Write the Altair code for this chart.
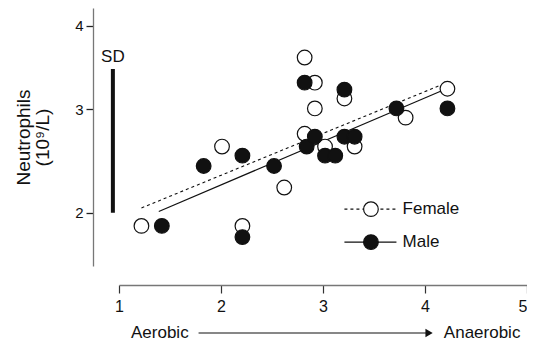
import altair as alt
import pandas as pd

# ---- data ----
female_x = [1.22, 2.01, 2.21, 2.62, 2.82, 2.92, 2.92, 2.82, 3.02, 3.21, 3.31, 3.81, 4.22]
female_y = [1.89, 2.61, 1.89, 2.22, 3.60, 3.30, 3.01, 2.74, 2.61, 3.12, 2.61, 2.91, 3.23]
male_x = [1.42, 1.83, 2.21, 2.21, 2.52, 2.82, 2.84, 2.92, 3.02, 3.12, 3.21, 3.21, 3.31, 3.72, 4.22]
male_y = [1.89, 2.42, 2.52, 1.80, 2.42, 3.30, 2.61, 2.71, 2.52, 2.52, 3.22, 2.71, 2.71, 3.01, 3.01]

female_fit_x = [1.22, 4.15]
female_fit_y = [2.04, 3.27]
male_fit_x = [1.39, 4.17]
male_fit_y = [2.01, 3.21]

sd_x = [0.94]
sd_low = [2.0]
sd_high = [3.46]
sd_label = ["SD"]
sd_label_y = [3.55]

legend_labels = ["Female", "Male"]
legend_y = [2.03, 1.76]
legend_line_x = [3.21, 3.72]
legend_mark_x = 3.47
legend_text_x = 3.78

x_ticks = [1, 2, 3, 4, 5]
y_ticks = [2, 3, 4]
x_domain = [1, 5]
y_domain = [1.58, 4.24]

arrow_labels = ["Aerobic", "Anaerobic"]
arrow_label_x = [1.40, 4.56]
arrow_x = [1.78, 4.04]

FONT = "Liberation Sans"

xs = alt.Scale(domain=x_domain, nice=False, zero=False)
ys = alt.Scale(type="pow", exponent=0.37, domain=y_domain, nice=False, zero=False)

x_axis = alt.Axis(values=x_ticks, title=None, offset=19, tickSize=8, grid=False,
                  labelFontSize=16, labelPadding=5, labelColor="#111", domainColor="#777",
                  domainWidth=1.3, tickColor="#333", tickWidth=1.2, labelFont=FONT,
                  format="d", labelFlush=False,
                  labelAlign={"condition": {"test": "datum.value === 5", "value": "right"},
                              "value": "center"})
y_axis = alt.Axis(values=y_ticks, title=["Neutrophils", "(10⁹/L)"], offset=26, tickSize=7,
                  grid=False, labelFontSize=15, labelPadding=3, labelColor="#111",
                  domainColor="#777", domainWidth=1.3, tickColor="#222", tickWidth=1.3,
                  titleFontSize=19, titleFontWeight="normal", titleFont=FONT, titleColor="#111",
                  titlePadding=22, labelFont=FONT, format="d", titleLineHeight=19,
                  labelFlush=False)

fem = pd.DataFrame({"x": female_x, "y": female_y})
mal = pd.DataFrame({"x": male_x, "y": male_y})
ffit = pd.DataFrame({"x": female_fit_x, "y": female_fit_y})
mfit = pd.DataFrame({"x": male_fit_x, "y": male_fit_y})

base_x = alt.X("x:Q", scale=xs, axis=x_axis)
base_y = alt.Y("y:Q", scale=ys, axis=y_axis)

fline = alt.Chart(ffit).mark_line(color="#111", strokeWidth=1.1, strokeDash=[3, 3]).encode(x=base_x, y=base_y)
mline = alt.Chart(mfit).mark_line(color="#111", strokeWidth=1.2).encode(x=base_x, y=base_y)

fpts = alt.Chart(fem).mark_point(shape="circle", filled=True, fill="white", stroke="#111",
                                 strokeWidth=1.2, size=215, opacity=1).encode(x="x:Q", y="y:Q")
mpts = alt.Chart(mal).mark_point(shape="circle", filled=True, fill="#111", stroke="#111",
                                 strokeWidth=1.2, size=215, opacity=1).encode(x="x:Q", y="y:Q")

sd = pd.DataFrame({"x": sd_x, "lo": sd_low, "hi": sd_high, "label": sd_label, "ly": sd_label_y})
sd_bar = alt.Chart(sd).mark_rule(color="#111", strokeWidth=4).encode(x="x:Q", y="lo:Q", y2="hi")
sd_txt = alt.Chart(sd).mark_text(font=FONT, fontSize=17, color="#111", baseline="alphabetic",
                                 align="center").encode(x="x:Q", y="ly:Q", text="label:N")

leg_lines = pd.DataFrame({
    "x": legend_line_x + legend_line_x,
    "y": [legend_y[0]] * 2 + [legend_y[1]] * 2,
    "g": [legend_labels[0]] * 2 + [legend_labels[1]] * 2,
})
leg_f_line = alt.Chart(leg_lines[leg_lines.g == "Female"]).mark_line(
    color="#111", strokeWidth=1.1, strokeDash=[3, 3]).encode(x="x:Q", y="y:Q")
leg_m_line = alt.Chart(leg_lines[leg_lines.g == "Male"]).mark_line(
    color="#111", strokeWidth=1.2).encode(x="x:Q", y="y:Q")
leg_pts = pd.DataFrame({"x": [legend_mark_x] * 2, "y": legend_y, "g": legend_labels})
leg_f_pt = alt.Chart(leg_pts[leg_pts.g == "Female"]).mark_point(
    shape="circle", filled=True, fill="white", stroke="#111", strokeWidth=1.2, size=215,
    opacity=1).encode(x="x:Q", y="y:Q")
leg_m_pt = alt.Chart(leg_pts[leg_pts.g == "Male"]).mark_point(
    shape="circle", filled=True, fill="#111", stroke="#111", strokeWidth=1.2, size=215,
    opacity=1).encode(x="x:Q", y="y:Q")
leg_txt = alt.Chart(pd.DataFrame({"x": [legend_text_x] * 2, "y": legend_y, "t": legend_labels})).mark_text(
    font=FONT, fontSize=17, color="#111", align="left", baseline="middle").encode(x="x:Q", y="y:Q", text="t:N")

arr_txt = alt.Chart(pd.DataFrame({"x": arrow_label_x, "t": arrow_labels})).mark_text(
    font=FONT, fontSize=17, color="#111", align="center", baseline="alphabetic").encode(
    x="x:Q", y=alt.value(330), text="t:N")
arr_line = alt.Chart(pd.DataFrame({"x": [arrow_x[0]], "x2": [arrow_x[1]]})).mark_rule(
    color="#111", strokeWidth=1.2).encode(x="x:Q", x2="x2", y=alt.value(325))
arr_head = alt.Chart(pd.DataFrame({"x": [arrow_x[1]]})).mark_point(
    shape="triangle-right", filled=True, color="#111", size=70, opacity=1).encode(
    x="x:Q", y=alt.value(325))

chart = alt.layer(
    fline, mline, fpts, mpts, sd_bar, sd_txt,
    leg_f_line, leg_m_line, leg_f_pt, leg_m_pt, leg_txt,
    arr_line, arr_head, arr_txt,
).properties(
    width=408, height=258,
    background="white",
    autosize=alt.AutoSizeParams(type="none"),
    padding={"left": 111, "top": 0, "right": 0, "bottom": 77},
).configure_view(strokeWidth=0)

chart.save("out.html", embed_options={"renderer": "svg", "actions": False})
